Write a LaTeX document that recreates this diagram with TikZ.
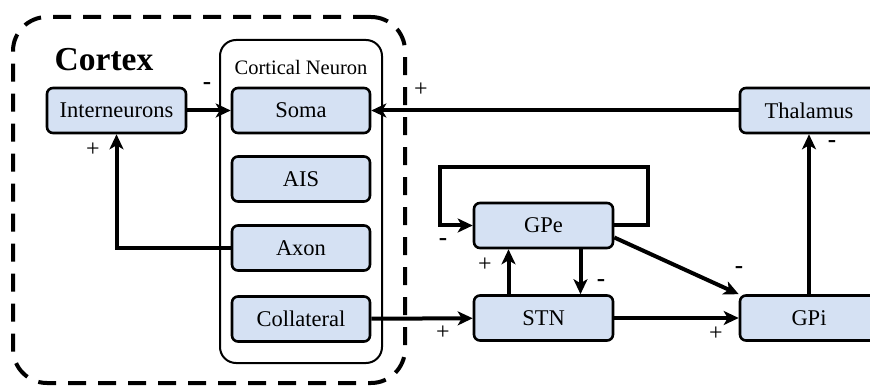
\documentclass[tikz,border=0pt]{standalone}
\usepackage{fontspec}
\setmainfont{Liberation Serif}
\usetikzlibrary{arrows.meta}
\definecolor{boxblue}{RGB}{213,225,243}
\tikzset{
  region/.style={draw, line width=2.6pt, rounded corners=6pt, fill=boxblue,
    minimum width=138pt, minimum height=45pt, inner sep=0pt,
    font=\fontsize{22.5}{26}\selectfont},
  link/.style={line width=4pt, -{Stealth[length=15pt,width=14pt,inset=4pt]}},
  sign/.style={font=\fontsize{24}{26}\selectfont, inner sep=0pt},
  minus/.style={font=\bfseries\fontsize{25}{28}\selectfont, inner sep=0pt},
}
\begin{document}
\begin{tikzpicture}[x=1pt,y=-1pt]
\useasboundingbox (0,0) rectangle (870,387);
\clip (0,0) rectangle (870,387);

% cortex region and the neuron container
\node[draw, dashed, dash pattern=on 18pt off 12pt, line width=4pt,
  rounded corners=34pt, minimum width=392pt, minimum height=366pt,
  inner sep=0pt] (cortex) at (209,200) {};
\node[font=\bfseries\fontsize{33.5}{38}\selectfont, inner sep=0pt] (cortexlbl) at (104,60) {Cortex};
\node[draw, line width=2pt, rounded corners=16pt, minimum width=162pt,
  minimum height=323pt, inner sep=0pt] (neuron) at (301,201.5) {};
\node[font=\fontsize{20.5}{24}\selectfont, inner sep=0pt] (neuronlbl) at (301,67) {Cortical Neuron};

% regions
\node[region, minimum width=139pt] (inter) at (116.5,110.5) {Interneurons};
\node[region] (soma) at (301,110.5) {Soma};
\node[region] (ais)  at (301,179) {AIS};
\node[region] (axon) at (301,248) {Axon};
\node[region] (coll) at (301,319) {Collateral};
\node[region] (thal) at (809,110.5) {Thalamus};
\node[region, minimum width=139pt] (gpe) at (543.5,225.5) {GPe};
\node[region, minimum width=139pt] (stn) at (543.5,318) {STN};
\node[region] (gpi) at (809,318) {GPi};

% loop coordinates
\coordinate (loopR) at (648,167);
\coordinate (loopL) at (440,167);

% connections
\draw[link] (inter) -- (soma);
\draw[link] (thal) -- (soma);
\draw[link] (axon.west) -| (inter.south);
\draw[link] (coll) -- (stn);
\draw[link] (gpe.east) -| (loopR) -- (loopL) |- (gpe.west);
\draw[link] ([xshift=-35pt]stn.north) -- ([xshift=-35pt]gpe.south);
\draw[link] ([xshift=37pt]gpe.south) -- ([xshift=37pt]stn.north);
\draw[link] ([yshift=-12pt]gpe.east) -- (gpi.north west);
\draw[link] (stn) -- (gpi);
\draw[link] (gpi) -- (thal);

% signs
\node[minus] (s1) at (207,86) {-};
\node[sign] (s2) at (421,90) {+};
\node[sign] (s3) at (93,150) {+};
\node[sign] (s4) at (443,333) {+};
\node[minus] (s5) at (443,242) {-};
\node[sign] (s6) at (485,265) {+};
\node[minus] (s7) at (601,283) {-};
\node[minus] (s8) at (739,270) {-};
\node[sign] (s9) at (716,334) {+};
\node[minus] (s10) at (832,144) {-};
\end{tikzpicture}
\end{document}
